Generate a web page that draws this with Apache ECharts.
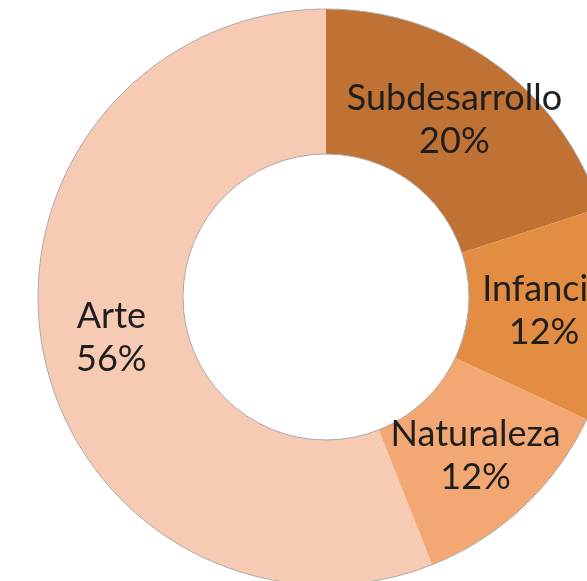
<!DOCTYPE html>
<html>
<head>
<meta charset="utf-8">
<script src="https://cdn.jsdelivr.net/npm/echarts@6/dist/echarts.min.js"></script>
<style>
  html, body { margin: 0; padding: 0; background: #fff; }
  #graph { width: 587px; height: 581px; }
</style>
</head>
<body>
<div id="graph"></div>
<script>
var chart = echarts.init(document.getElementById('graph'));

// datos
var categorias = ['Subdesarrollo', 'Infancia', 'Naturaleza', 'Arte'];
var valores = [5, 3, 3, 14];
var colores = ['#bf7234', '#e38d42', '#f3a773', '#f7cbb3'];

var data = categorias.map(function (c, i) {
  return { name: c, value: valores[i], itemStyle: { color: colores[i] } };
});

option = {
  animation: false,
  series: [
    {
      type: 'pie',
      center: [326, 297],
      radius: [143, 288],
      startAngle: 90,
      clockwise: true,
      silent: true,
      itemStyle: { borderWidth: 0 },
      label: {
        position: 'inside',
        formatter: '{b}\n{d}%',
        fontFamily: 'Lato',
        fontSize: 36,
        lineHeight: 43,
        color: '#1e1e1e'
      },
      labelLine: { show: false },
      data: data
    },
    {
      // contorno gris del anillo
      type: 'pie',
      center: [326, 297],
      radius: [143, 288],
      silent: true,
      label: { show: false },
      itemStyle: { color: 'transparent', borderColor: '#aaa', borderWidth: 1 },
      data: [{ value: 1, name: 'borde' }]
    }
  ]
};

option && chart.setOption(option);
</script>
</body>
</html>
